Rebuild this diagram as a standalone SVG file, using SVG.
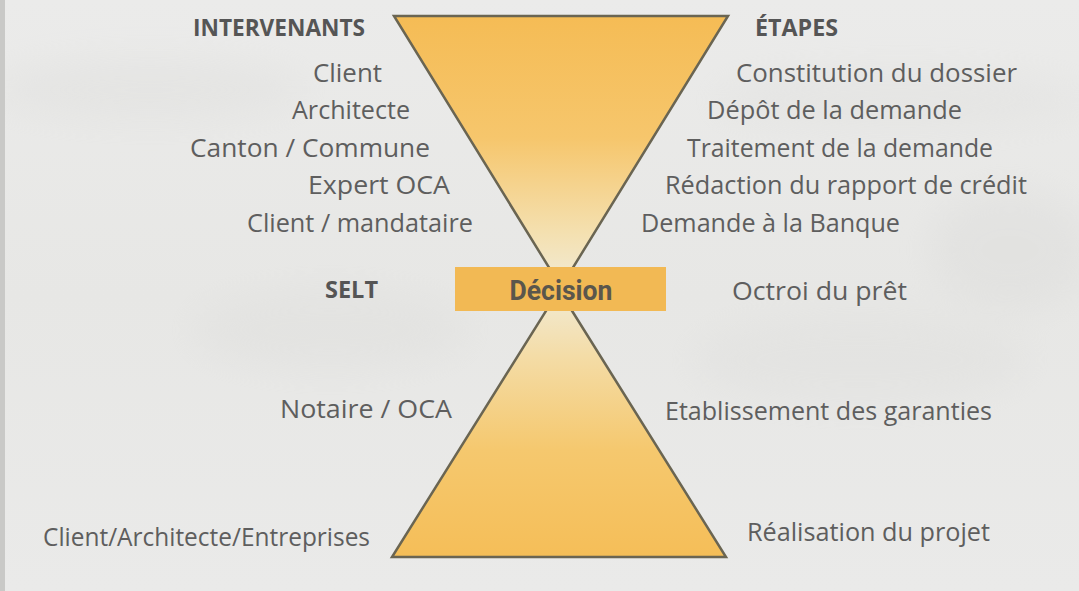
<svg xmlns="http://www.w3.org/2000/svg" width="1079" height="591" viewBox="0 0 1079 591">
  <defs>
    <linearGradient id="bg" x1="0" y1="0" x2="0" y2="1">
      <stop offset="0" stop-color="#ebebea"/>
      <stop offset="0.5" stop-color="#e7e7e5"/>
      <stop offset="1" stop-color="#eaeae9"/>
    </linearGradient>
    <linearGradient id="gTop" x1="0" y1="16" x2="0" y2="287" gradientUnits="userSpaceOnUse">
      <stop offset="0" stop-color="#f5bc55"/>
      <stop offset="0.45" stop-color="#f6c66c"/>
      <stop offset="0.8" stop-color="#f4e0b0"/>
      <stop offset="1" stop-color="#f1ebd6"/>
    </linearGradient>
    <linearGradient id="gBot" x1="0" y1="290" x2="0" y2="557" gradientUnits="userSpaceOnUse">
      <stop offset="0" stop-color="#f1ebd6"/>
      <stop offset="0.25" stop-color="#f4dca6"/>
      <stop offset="0.6" stop-color="#f5c86e"/>
      <stop offset="1" stop-color="#f5be58"/>
    </linearGradient>
    <filter id="soft" x="-20%" y="-50%" width="140%" height="200%">
      <feGaussianBlur stdDeviation="18"/>
    </filter>
  </defs>
  <style>
    .tri { stroke: #6a6552; stroke-width: 2.5; stroke-linejoin: miter; }
    .lbl { font-family: "Open Sans", "Liberation Sans", sans-serif; font-size: 25.5px; fill: #5e5e5e; }
    .head { font-family: "Open Sans", "Liberation Sans", sans-serif; font-size: 24px; font-weight: bold; fill: #555555; }
    .dec { font-family: Roboto, "Liberation Sans", sans-serif; font-size: 27px; font-weight: bold; fill: #5a564c; }
  </style>

  <!-- background -->
  <rect x="0" y="0" width="1079" height="591" fill="url(#bg)"/>
  <g filter="url(#soft)" opacity="0.3">
    <ellipse cx="150" cy="90" rx="160" ry="30" fill="#d9d9d7"/>
    <ellipse cx="900" cy="100" rx="190" ry="30" fill="#dcdcda"/>
    <ellipse cx="330" cy="330" rx="140" ry="40" fill="#dadad8"/>
    <ellipse cx="860" cy="360" rx="170" ry="45" fill="#dbdbd9"/>
    <ellipse cx="1010" cy="250" rx="80" ry="60" fill="#d7d7d5"/>
  </g>
  <rect x="0" y="0" width="5" height="591" fill="#c9c9c7"/>

  <g id="connectors"></g>

  <g id="triangle-top">
    <polygon class="tri" points="394,16 728,16 561,287" fill="url(#gTop)"/>
  </g>
  <g id="triangle-bottom">
    <polygon class="tri" points="559,290 726,557 392,557" fill="url(#gBot)"/>
  </g>
  <g id="decision">
    <rect x="455" y="267" width="211" height="44" fill="#f2b954"/>
    <text class="dec" x="561" y="300" text-anchor="middle" textLength="103" lengthAdjust="spacingAndGlyphs">Décision</text>
  </g>

  <g id="intervenants">
    <text class="head" x="193" y="36" textLength="172" lengthAdjust="spacingAndGlyphs">INTERVENANTS</text>
    <text class="lbl" x="313" y="82" textLength="69" lengthAdjust="spacingAndGlyphs">Client</text>
    <text class="lbl" x="292" y="119" textLength="118" lengthAdjust="spacingAndGlyphs">Architecte</text>
    <text class="lbl" x="190" y="157" textLength="240" lengthAdjust="spacingAndGlyphs">Canton / Commune</text>
    <text class="lbl" x="308" y="194" textLength="142" lengthAdjust="spacingAndGlyphs">Expert OCA</text>
    <text class="lbl" x="247" y="232" textLength="226" lengthAdjust="spacingAndGlyphs">Client / mandataire</text>
  </g>
  <g id="selt">
    <text class="head" x="325" y="298" textLength="53" lengthAdjust="spacingAndGlyphs">SELT</text>
  </g>
  <g id="notaire">
    <text class="lbl" x="280" y="418" textLength="172" lengthAdjust="spacingAndGlyphs">Notaire / OCA</text>
  </g>
  <g id="client-entreprises">
    <text class="lbl" x="43" y="546" textLength="327" lengthAdjust="spacingAndGlyphs">Client/Architecte/Entreprises</text>
  </g>

  <g id="etapes">
    <text class="head" x="755" y="36" textLength="83" lengthAdjust="spacingAndGlyphs">ÉTAPES</text>
    <text class="lbl" x="736" y="82" textLength="281" lengthAdjust="spacingAndGlyphs">Constitution du dossier</text>
    <text class="lbl" x="707" y="119" textLength="255" lengthAdjust="spacingAndGlyphs">Dépôt de la demande</text>
    <text class="lbl" x="687" y="157" textLength="306" lengthAdjust="spacingAndGlyphs">Traitement de la demande</text>
    <text class="lbl" x="665" y="194" textLength="362" lengthAdjust="spacingAndGlyphs">Rédaction du rapport de crédit</text>
    <text class="lbl" x="641" y="232" textLength="259" lengthAdjust="spacingAndGlyphs">Demande à la Banque</text>
  </g>
  <g id="octroi">
    <text class="lbl" x="732" y="300" textLength="175" lengthAdjust="spacingAndGlyphs">Octroi du prêt</text>
  </g>
  <g id="garanties">
    <text class="lbl" x="665" y="420" textLength="327" lengthAdjust="spacingAndGlyphs">Etablissement des garanties</text>
  </g>
  <g id="realisation">
    <text class="lbl" x="747" y="541" textLength="243" lengthAdjust="spacingAndGlyphs">Réalisation du projet</text>
  </g>
</svg>
